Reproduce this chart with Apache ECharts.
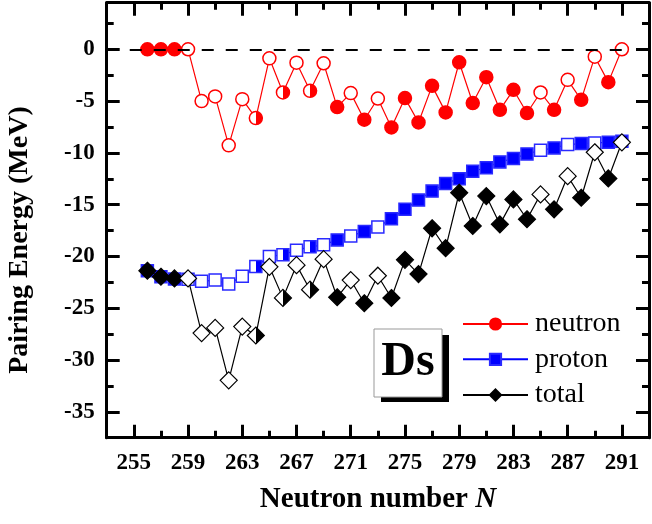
<!DOCTYPE html>
<html>
<head>
<meta charset="utf-8">
<script src="https://cdn.jsdelivr.net/npm/echarts@6/dist/echarts.min.js"></script>
<style>html,body{margin:0;padding:0;background:#fff;}#c{width:652px;height:524px;}</style>
</head>
<body>
<div id="c"></div>
<script>
// Neutron numbers
const neutronNumbers = [256,257,258,259,260,261,262,263,264,265,266,267,268,269,270,271,272,273,274,275,276,277,278,279,280,281,282,283,284,285,286,287,288,289,290,291];
// Pairing energies (MeV)
const neutronPairing = [0,0,0,0,-5.0,-4.55,-9.27,-4.81,-6.64,-0.87,-4.17,-1.29,-4.01,-1.35,-5.58,-4.23,-6.8,-4.75,-7.54,-4.71,-7.06,-3.53,-6.09,-1.25,-5.19,-2.69,-5.84,-3.91,-6.15,-4.17,-5.84,-2.95,-4.88,-0.71,-3.17,0];
const protonPairing = [-21.38,-21.96,-22.18,-22.2,-22.4,-22.28,-22.66,-21.92,-20.96,-20.0,-19.84,-19.39,-19.07,-18.88,-18.4,-18.02,-17.6,-17.15,-16.35,-15.45,-14.56,-13.69,-12.95,-12.5,-11.77,-11.44,-10.87,-10.55,-10.1,-9.75,-9.52,-9.2,-9.1,-9.04,-8.98,-8.88];
const totalPairing = [-21.38,-21.96,-22.12,-22.12,-27.4,-26.9,-31.96,-26.77,-27.63,-21.0,-24.0,-20.84,-23.21,-20.26,-23.94,-22.28,-24.52,-21.86,-24.01,-20.33,-21.7,-17.28,-19.2,-13.85,-17.06,-14.17,-16.9,-14.49,-16.41,-14.01,-15.45,-12.25,-14.33,-9.94,-12.47,-8.98];
// Marker fill state: F = filled, O = open, H = half filled
const neutronFill = ['F','F','F','O','O','O','O','O','H','O','H','O','H','O','F','O','F','O','F','F','F','F','F','F','F','F','F','F','F','O','F','O','F','O','F','O'];
const protonFill  = ['F','F','F','O','O','O','O','O','H','O','H','O','H','O','F','O','F','O','F','F','F','F','F','F','F','F','F','F','F','O','F','O','F','O','F','F'];
const totalFill   = ['F','F','F','O','O','O','O','O','H','O','H','O','H','O','F','O','F','O','F','F','F','F','F','F','F','F','F','F','F','O','F','O','F','O','F','O'];
// Tick values
const xMajorTicks = [255,259,263,267,271,275,279,283,287,291];
const xMinorTicks = [257,261,265,269,273,277,281,285,289];
const yMajorTicks = [0,-5,-10,-15,-20,-25,-30,-35];
const yMinorTicks = [2.5,-2.5,-7.5,-12.5,-17.5,-22.5,-27.5,-32.5];
const zeroLine = [[254.7,0],[291,0]];

function fillFor(state, color){
  if (state === 'F') return color;
  if (state === 'O') return '#ffffff';
  return {type:'linear', x:0, y:0, x2:1, y2:0, colorStops:[{offset:0,color:'#ffffff'},{offset:0.5,color:'#ffffff'},{offset:0.5,color:color},{offset:1,color:color}]};
}
function build(vals, fills, color){
  return vals.map((v,i)=>({value:[neutronNumbers[i], v], itemStyle:{color: fillFor(fills[i], color)}}));
}

const serif = 'Liberation Serif';
const chart = echarts.init(document.getElementById('c'), null, {renderer:'canvas'});

function xAxisDef(pos, ticks, len, showLine, showLabel){
  return {
    type:'value', min:253, max:293, position:pos, gridIndex:0,
    axisLine:{show:showLine, onZero:false, lineStyle:{color:'#000', width:3}},
    axisTick:{show:true, inside:true, length:len, customValues:ticks, lineStyle:{color:'#000', width:3}},
    axisLabel:{show:showLabel, customValues:ticks, margin:14, fontFamily:serif, fontWeight:'bold', fontSize:23, color:'#000'},
    splitLine:{show:false}
  };
}
function yAxisDef(pos, ticks, len, showLine, showLabel){
  return {
    type:'value', min:-37.5, max:4.5, position:pos, gridIndex:0,
    axisLine:{show:showLine, onZero:false, lineStyle:{color:'#000', width:3}},
    axisTick:{show:true, inside:true, length:len, customValues:ticks, lineStyle:{color:'#000', width:3}},
    axisLabel:{show:showLabel, customValues:ticks, margin:12, fontFamily:serif, fontWeight:'bold', fontSize:23, color:'#000'},
    splitLine:{show:false}
  };
}

const legendBase = {orient:'vertical', itemWidth:65, itemHeight:14, itemGap:0, padding:0,
  textStyle:{fontFamily:serif, fontSize:28, color:'#000', padding:[0,0,0,2]}};

chart.setOption({
  animation:false,
  backgroundColor:'#ffffff',
  grid:{left:106.7, right:3, top:2.7, bottom:86.3, containLabel:false},
  xAxis:[
    xAxisDef('bottom', xMajorTicks, 13, true, true),
    xAxisDef('bottom', xMinorTicks, 7, false, false),
    xAxisDef('top', xMajorTicks, 13, true, false),
    xAxisDef('top', xMinorTicks, 7, false, false)
  ],
  yAxis:[
    yAxisDef('left', yMajorTicks, 13, true, true),
    yAxisDef('left', yMinorTicks, 7, false, false),
    yAxisDef('right', yMajorTicks, 13, true, false),
    yAxisDef('right', yMinorTicks, 7, false, false)
  ],
  legend:[
    Object.assign({}, legendBase, {data:['neutron'], left:462, top:310}),
    Object.assign({}, legendBase, {data:['proton'], left:462, top:345.3}),
    Object.assign({}, legendBase, {data:['total'], left:462, top:381})
  ],
  series:[
    {
      name:'neutron', type:'line', xAxisIndex:0, yAxisIndex:0,
      data: build(neutronPairing, neutronFill, '#ff0000'),
      symbol:'circle', symbolSize:13, showSymbol:true,
      lineStyle:{color:'#ff0000', width:1.2},
      itemStyle:{color:'#ff0000', borderColor:'#ff0000', borderWidth:1.5},
      markLine:{silent:true, symbol:'none', label:{show:false},
        lineStyle:{type:[12,12], color:'#000', width:2},
        data:[[{coord:zeroLine[0]},{coord:zeroLine[1]}]]},
      z:3
    },
    {
      name:'proton', type:'line', xAxisIndex:0, yAxisIndex:0,
      data: build(protonPairing, protonFill, '#0000ff'),
      symbol:'rect', symbolSize:12, showSymbol:true,
      lineStyle:{color:'#0000ff', width:1.2},
      itemStyle:{color:'#0000ff', borderColor:'#2a2aff', borderWidth:1.5},
      z:4
    },
    {
      name:'total', type:'line', xAxisIndex:0, yAxisIndex:0,
      data: build(totalPairing, totalFill, '#000000'),
      symbol:'diamond', symbolSize:17, showSymbol:true,
      lineStyle:{color:'#000000', width:1.2},
      itemStyle:{color:'#000000', borderColor:'#000000', borderWidth:1.2},
      z:5
    }
  ],
  graphic:[
    {type:'text', x:20, y:240, rotation:Math.PI/2,
      style:{text:'Pairing Energy (MeV)', fontFamily:serif, fontWeight:'bold', fontSize:28, fill:'#000', align:'center', verticalAlign:'middle'}},
    {type:'text', x:378, y:500,
      style:{text:'Neutron number {i|N}', fontFamily:serif, fontWeight:'bold', fontSize:29, fill:'#000', align:'center', verticalAlign:'middle',
        rich:{i:{fontFamily:serif, fontWeight:'bold', fontStyle:'italic', fontSize:29, fill:'#000'}}}},
    {type:'rect', shape:{x:381, y:335, width:68, height:67}, style:{fill:'#000'}, z:10},
    {type:'rect', shape:{x:374, y:329, width:68, height:68}, style:{fill:'#fff', stroke:'#999', lineWidth:1}, z:11},
    {type:'text', x:408, y:363, z:12,
      style:{text:'Ds', fontFamily:serif, fontWeight:'bold', fontSize:48, fill:'#000', align:'center', verticalAlign:'middle'}}
  ]
});
</script>
</body>
</html>
